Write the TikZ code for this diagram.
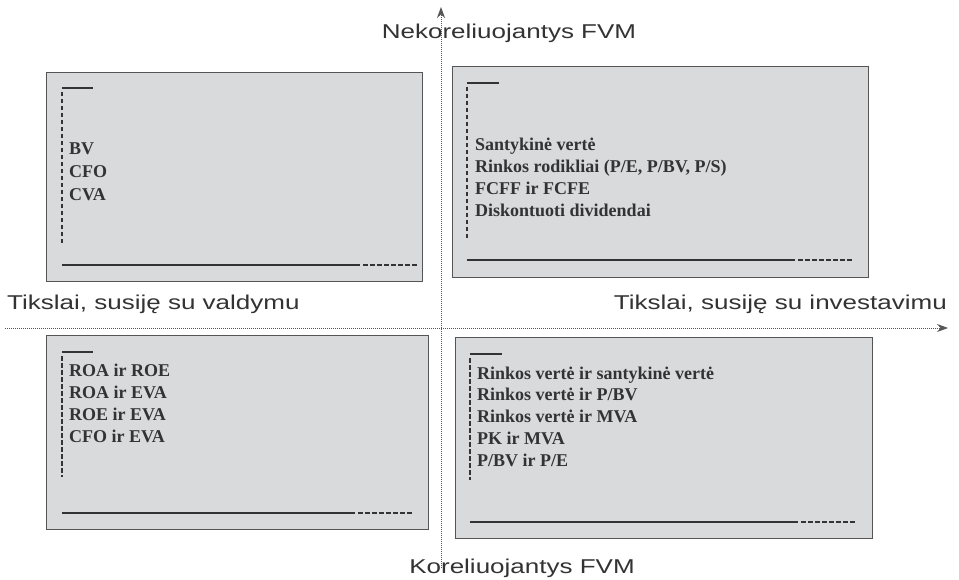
\documentclass[tikz,border=0pt]{standalone}
\usepackage{fontspec}
\setmainfont{Liberation Serif}
\newfontfamily\axisfont[FakeStretch=1.3]{Liberation Sans}
\usetikzlibrary{arrows.meta}

\definecolor{boxfill}{HTML}{D9DADC}
\definecolor{boxline}{HTML}{555555}
\definecolor{inkgray}{HTML}{333333}

\tikzset{
  quad/.style={draw=boxline, line width=1.3pt, fill=boxfill},
  item/.style={anchor=base west, inner sep=0pt, text=inkgray,
    font=\fontsize{18}{22}\selectfont\bfseries},
  axislabel/.style={inner sep=0pt, text=inkgray,
    font=\axisfont\fontsize{20}{24}\selectfont},
  axis/.style={draw=boxline, densely dotted, line width=1pt,
    -{Stealth[length=11pt,width=8pt]}},
  rule/.style={draw=inkgray, line width=1.6pt},
  rulecut/.style={rule, dash pattern=on 4.5pt off 2.5pt},
}

\begin{document}
\begin{tikzpicture}[x=1pt,y=-1pt]
   \useasboundingbox[fill=white] (0,0) rectangle (959,580);

   % quadrants
   \node[quad, anchor=north west, minimum width=376pt, minimum height=209pt] (tlbox) at (46,72) {};
   \node[quad, anchor=north west, minimum width=416pt, minimum height=211pt] (trbox) at (452,66) {};
   \node[quad, anchor=north west, minimum width=382pt, minimum height=194pt] (blbox) at (46,335) {};
   \node[quad, anchor=north west, minimum width=417pt, minimum height=201pt] (brbox) at (455,337) {};

   % rules inside the quadrants
   \draw[rule] (62,88) -- (93,88);
   \draw[rulecut] (62,92) -- (62,244);
   \draw[rule] (62,265) -- (360,265);
   \draw[rulecut] (363,265) -- (418,265);

   \draw[rule] (467,83) -- (499,83);
   \draw[rulecut] (467,87) -- (467,240);
   \draw[rule] (467,260) -- (795,260);
   \draw[rulecut] (798,260) -- (854,260);

   \draw[rule] (62,352) -- (93,352);
   \draw[rulecut] (62,356) -- (62,477);
   \draw[rule] (62,513) -- (355,513);
   \draw[rulecut] (358,513) -- (412,513);

   \draw[rule] (470,354) -- (502,354);
   \draw[rulecut] (470,358) -- (470,480);
   \draw[rule] (470,522) -- (798,522);
   \draw[rulecut] (801,522) -- (855,522);

   % items
   \foreach \t [count=\i] in {BV,CFO,CVA}
      \node[item] (tl\i) at (69,155+23*\i-23) {\t};
   \foreach \t [count=\i] in {Santykinė vertė,{Rinkos rodikliai (P/E, P/BV, P/S)},FCFF ir FCFE,Diskontuoti dividendai}
      \node[item] (tr\i) at (475,151+22*\i-22) {\t};
   \foreach \t [count=\i] in {ROA ir ROE,ROA ir EVA,ROE ir EVA,CFO ir EVA}
      \node[item] (bl\i) at (69,376+22*\i-22) {\t};
   \foreach \t [count=\i] in {Rinkos vertė ir santykinė vertė,Rinkos vertė ir P/BV,Rinkos vertė ir MVA,PK ir MVA,P/BV ir P/E}
      \node[item] (br\i) at (477,379+21.75*\i-21.75) {\t};

   % axis labels
   \node[axislabel, anchor=base west] (manage) at (7,309) {Tikslai, susiję su valdymu};
   \node[axislabel, anchor=base east] (invest) at (947,309) {Tikslai, susiję su investavimu};
   \node[axislabel, anchor=base] (uncorr) at (509,39) {Nekoreliuojantys FVM};
   \node[axislabel, anchor=base] (corr) at (522,573) {Koreliuojantys FVM};

   % axes
   \coordinate (ybot) at (441,568);
   \coordinate (ytop) at (441,7);
   \coordinate (xleft) at (5,328);
   \coordinate (xright) at (948,328);
   \draw[axis] (ybot) -- (ytop);
   \draw[axis] (xleft) -- (xright);
\end{tikzpicture}
\end{document}
